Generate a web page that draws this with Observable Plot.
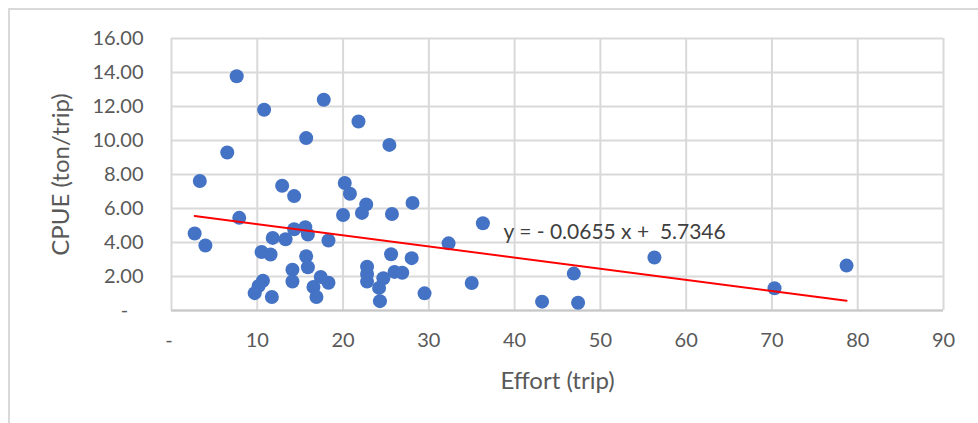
<!DOCTYPE html>
<html>
<head>
<meta charset="utf-8">
<script src="https://cdn.jsdelivr.net/npm/d3@7"></script>
<script src="https://cdn.jsdelivr.net/npm/@observablehq/plot@0.6"></script>
<style>
  html, body { margin: 0; padding: 0; background: #fff; }
  #wrap { position: relative; width: 978px; height: 423px; overflow: hidden; }
  #frame { position: absolute; left: 8px; top: 8px; width: 990px; height: 440px;
           border-left: 2px solid #d9d9d9; border-top: 2px solid #d9d9d9; pointer-events: none; }
</style>
</head>
<body>
<div id="wrap"><div id="frame"></div></div>
<script>
// Scatter data
const effort = [7.6, 10.8, 17.75, 21.8, 15.7, 25.4, 6.5, 3.3, 12.9, 14.3,
  20.2, 20.8, 22.7, 22.2, 20.0, 25.7, 28.1, 7.9, 2.7, 3.95,
  11.8, 13.3, 14.3, 15.6, 15.9, 18.3, 32.3, 10.5, 11.55, 15.7,
  15.9, 25.6, 28.0, 14.1, 14.1, 10.66, 10.15, 9.7, 11.7, 17.4,
  18.3, 16.55, 16.9, 22.8, 22.8, 22.8, 24.7, 24.2, 24.3, 26.0,
  26.9, 29.5, 36.3, 35.0, 46.9, 43.2, 47.4, 56.3, 70.3, 78.7];
const cpue = [13.78, 11.81, 12.4, 11.12, 10.14, 9.74, 9.29, 7.62, 7.34, 6.73,
  7.5, 6.87, 6.24, 5.74, 5.62, 5.68, 6.33, 5.45, 4.53, 3.82,
  4.27, 4.19, 4.78, 4.9, 4.47, 4.12, 3.95, 3.44, 3.29, 3.19,
  2.54, 3.31, 3.08, 2.4, 1.71, 1.75, 1.44, 1.02, 0.79, 1.97,
  1.63, 1.38, 0.79, 2.57, 2.15, 1.7, 1.9, 1.33, 0.55, 2.27,
  2.22, 1.01, 5.13, 1.62, 2.17, 0.52, 0.46, 3.12, 1.31, 2.64];

// Trend line endpoints
const trendX = [2.7, 78.7];
const trendY = [5.558, 0.579];

// Equation annotation
const eqText = ["y = - 0.0655 x +\u00a0 5.7346"];
const eqX = [38.7];
const eqY = [4.6];

// Ticks
const xTicks = [0, 10, 20, 30, 40, 50, 60, 70, 80, 90];
const xTickLabels = ["-\u00a0", "10", "20", "30", "40", "50", "60", "70", "80", "90"];
const yTicks = [0, 2, 4, 6, 8, 10, 12, 14, 16];
const yTickLabels = ["-\u00a0\u00a0\u00a0", "2.00", "4.00", "6.00", "8.00", "10.00", "12.00", "14.00", "16.00"];

const xTitle = "Effort (trip)";
const yTitle = "CPUE (ton/trip)";

const points = effort.map((e, i) => ({effort: e, cpue: cpue[i]}));
const trend = trendX.map((x, i) => ({x, y: trendY[i]}));
const eq = eqText.map((t, i) => ({t, x: eqX[i], y: eqY[i]}));

const chart = Plot.plot({
  width: 978,
  height: 423,
  marginLeft: 171,
  marginRight: 35,
  marginTop: 38,
  marginBottom: 113,
  style: {fontFamily: "Lato", fontSize: "20px", color: "#595959", background: "transparent"},
  x: {domain: [0, 90]},
  y: {domain: [0, 16]},
  marks: [
    Plot.gridX(xTicks, {stroke: "#d9d9d9", strokeOpacity: 1, strokeWidth: 2}),
    Plot.gridY(yTicks, {stroke: "#d9d9d9", strokeOpacity: 1, strokeWidth: 2}),
    Plot.ruleY([0], {stroke: "#c8c8c8", strokeWidth: 2}),
    Plot.axisX({ticks: xTicks, tickSize: 0, tickPadding: 22, label: null,
      tickFormat: d => xTickLabels[xTicks.indexOf(d)]}),
    Plot.axisY({ticks: yTicks, tickSize: 0, tickPadding: 28, label: null,
      tickFormat: d => yTickLabels[yTicks.indexOf(d)]}),
    Plot.dot(points, {x: "effort", y: "cpue", r: 7, fill: "#4472C4", stroke: "none"}),
    Plot.line(trend, {x: "x", y: "y", stroke: "#ff0000", strokeWidth: 2}),
    Plot.text(eq, {x: "x", y: "y", text: "t", textAnchor: "start", fontSize: 21, fill: "#404040"}),
    Plot.text([xTitle], {frameAnchor: "bottom", textAnchor: "middle", lineAnchor: "middle", dy: 71, fontSize: 24, fill: "#595959"}),
    Plot.text([yTitle], {frameAnchor: "left", textAnchor: "middle", lineAnchor: "middle", dx: -110, rotate: -90, fontSize: 24, fill: "#595959"})
  ]
});
document.getElementById("wrap").prepend(chart);
</script>
</body>
</html>
